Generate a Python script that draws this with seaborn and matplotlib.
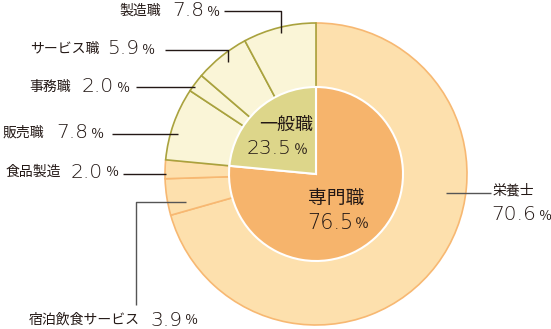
import matplotlib
matplotlib.use("Agg")
import matplotlib.pyplot as plt
import seaborn as sns

sns.set_style("white")
plt.rcParams['font.family'] = ['Noto Sans CJK JP', 'DejaVu Sans']

inner_labels = ["専門職", "一般職"]
inner_values = [76.5, 23.5]
outer_labels = ["栄養士", "宿泊飲食サービス", "食品製造", "販売職", "事務職", "サービス職", "製造職"]
outer_values = [70.6, 3.9, 2.0, 7.8, 2.0, 5.9, 7.8]
outer_group = [0, 0, 0, 1, 1, 1, 1]

inner_colors = ["#F6B46C", "#DDD68A"]
outer_fill = ["#FDE0AD", "#FAF5D7"]
outer_edge = ["#F7B872", "#A9A23E"]

W, H = 551, 329
fig = plt.figure(figsize=(W / 100, H / 100), dpi=100)
ax = fig.add_axes([0, 0, 1, 1])

cx, cy = 316, 174
R_out, R_in = 151, 87

def Y(y):
    return H - y

wedges, _ = ax.pie(outer_values, radius=R_out, center=(cx, Y(cy)), startangle=90,
                   counterclock=False,
                   colors=[outer_fill[g] for g in outer_group],
                   wedgeprops=dict(linewidth=1.2))
for w, g in zip(wedges, outer_group):
    w.set_edgecolor(outer_edge[g])

iw, _ = ax.pie(inner_values, radius=R_in, center=(cx, Y(cy)), startangle=90,
               counterclock=False, colors=inner_colors,
               wedgeprops=dict(linewidth=1.5, edgecolor="white"))

ax.set_xlim(0, W)
ax.set_ylim(0, H)
ax.set_aspect("equal")
ax.axis("off")

txt = "#231815"
num_font = dict(family=["DejaVu Sans"], fontweight="light")
fig.canvas.draw()
renderer = fig.canvas.get_renderer()

def number(x, y, value, size=14.5, psize=9.5, gap=3):
    t = ax.text(x, Y(y), f"{value:.1f}", ha="left", va="center", fontsize=size,
                color=txt, **num_font)
    bb = t.get_window_extent(renderer=renderer)
    ax.text(bb.x1 + gap, Y(y + 1), "％", ha="left", va="center", fontsize=psize, color=txt)

def name(x, y, s, ha="right", size=10):
    ax.text(x, Y(y), s, ha=ha, va="center", fontsize=size, color=txt)

def line(pts, color="#231815", lw=1.0):
    xs = [p[0] for p in pts]
    ys = [Y(p[1]) for p in pts]
    ax.plot(xs, ys, color=color, lw=lw, solid_capstyle="butt")

# 製造職
name(161, 11, outer_labels[6]); number(172, 11, outer_values[6])
line([(224, 11), (281, 11), (281, 33)])
# サービス職
name(99, 49, outer_labels[5]); number(107, 49, outer_values[5])
line([(165, 50), (228, 50), (228, 62)])
# 事務職
name(71, 87, outer_labels[4]); number(82, 87, outer_values[4])
line([(136, 87), (195, 87)])
# 販売職
name(44, 133, outer_labels[3]); number(56, 133, outer_values[3])
line([(112, 134), (178, 134)])
# 食品製造
name(61, 172, outer_labels[2]); number(71, 172, outer_values[2])
line([(123, 174), (166, 174)])
# 宿泊飲食サービス
name(140, 320, outer_labels[1]); number(150, 320, outer_values[1])
line([(136, 305), (136, 202), (186, 202)], color="#555555")
# 栄養士
name(493, 191, outer_labels[0], ha="left")
number(491, 215, outer_values[0])
line([(446, 193), (491, 193)], color="#555555")

# inner labels
name(286, 125, inner_labels[1], ha="center", size=13)
number(247, 149, inner_values[1], size=14.5, psize=10, gap=2)
name(336, 198, inner_labels[0], ha="center", size=13.5)
number(307, 223, inner_values[0], size=15, psize=10, gap=2)

fig.savefig("out.png", dpi=100)
